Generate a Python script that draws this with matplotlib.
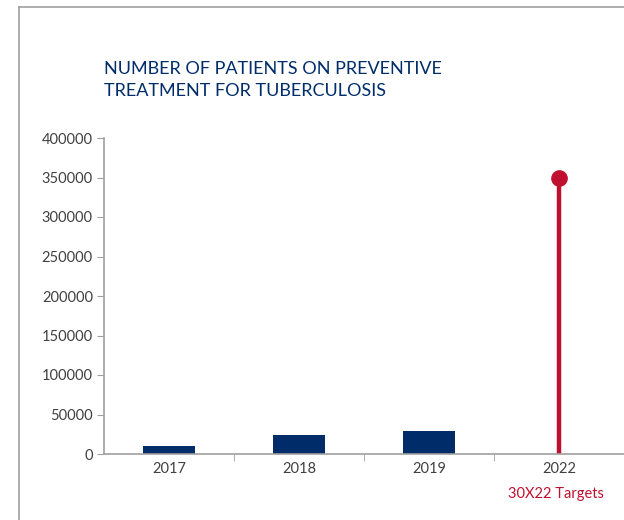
import matplotlib.pyplot as plt
from matplotlib.lines import Line2D

years = ['2017', '2018', '2019', '2022']
actual = [10500, 23500, 29000]
target = 350000
yticks = [0, 50000, 100000, 150000, 200000, 250000, 300000, 350000, 400000]

navy = '#002D6A'
crimson = '#C0102F'
grey_txt = '#404040'

plt.rcParams['font.family'] = ['Lato', 'DejaVu Sans']

fig = plt.figure(figsize=(6.24, 5.2), dpi=100)
ax = fig.add_axes([104 / 624, 66 / 520, 1 - 104 / 624, 316 / 520])

# outer frame (top and left edges only visible)
fig.add_artist(Line2D([19 / 624, 1.0], [1 - 7 / 520, 1 - 7 / 520],
                      transform=fig.transFigure, color='#a0a0a0', lw=1.2))
fig.add_artist(Line2D([19 / 624, 19 / 624], [0, 1 - 7 / 520],
                      transform=fig.transFigure, color='#a0a0a0', lw=1.2))

ax.bar(range(3), actual, width=0.4, color=navy)
ax.plot([3, 3], [0, target], color=crimson, lw=3.2, solid_capstyle='butt')
ax.plot([3], [target], 'o', color=crimson, markersize=11)

ax.set_xlim(-0.5, 3.5)
ax.set_ylim(0, 400000)
ax.set_yticks(yticks)
ax.set_yticklabels([str(v) for v in yticks])
ax.set_xticks(range(4))
ax.set_xticklabels(years)
ax.set_xticks([0.5, 1.5, 2.5], minor=True)
ax.tick_params(axis='x', which='major', length=0, pad=6, labelsize=10.5, labelcolor=grey_txt)
ax.tick_params(axis='x', which='minor', length=5, color='#a0a0a0', direction='out')
ax.tick_params(axis='y', length=5, color='#a0a0a0', labelsize=10.5, labelcolor=grey_txt, pad=3)

for s in ['top', 'right']:
    ax.spines[s].set_visible(False)
for s in ['left', 'bottom']:
    ax.spines[s].set_color('#a0a0a0')
    ax.spines[s].set_linewidth(1.2)

fig.text(104 / 624, 1 - 80 / 520, 'NUMBER OF PATIENTS ON PREVENTIVE\nTREATMENT FOR TUBERCULOSIS',
         color=navy, fontsize=13, ha='left', va='center', linespacing=1.45)
fig.text(556 / 624, 1 - 494 / 520, '30X22 Targets', color=crimson, fontsize=10.5,
         ha='center', va='center')

fig.savefig('out.png', dpi=100)
